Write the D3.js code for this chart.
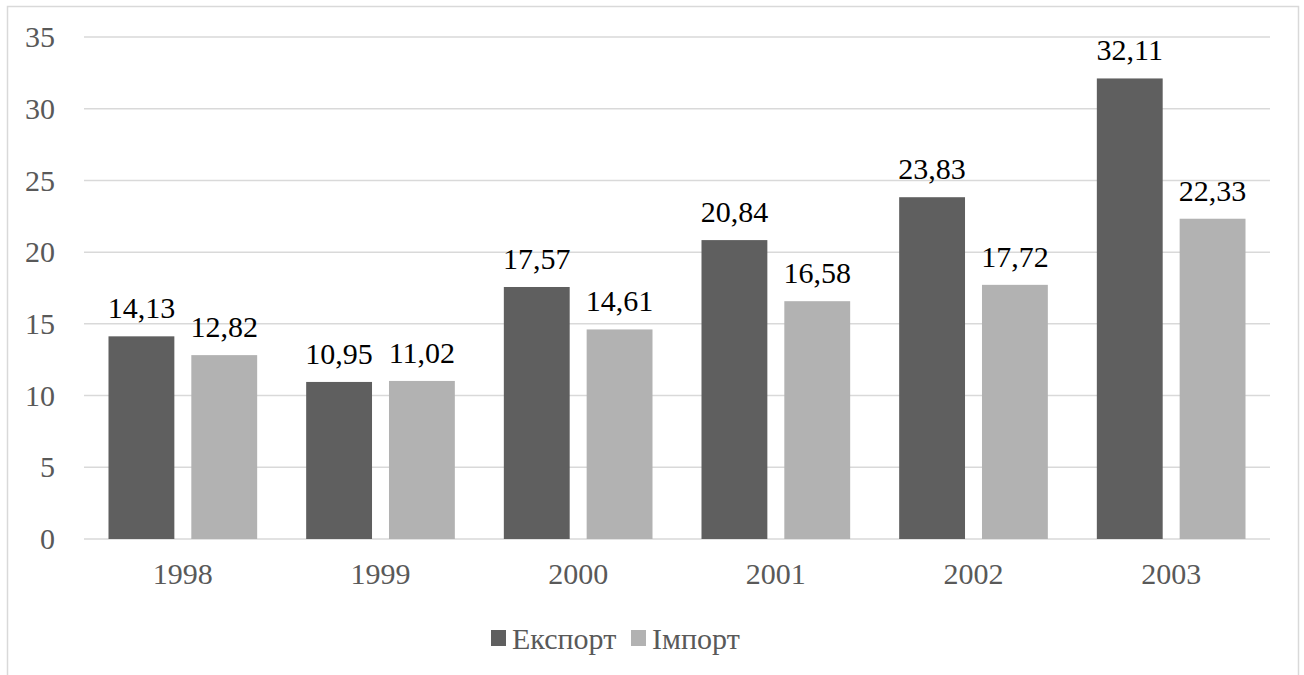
<!DOCTYPE html>
<html><head><meta charset="utf-8">
<script src="https://cdn.jsdelivr.net/npm/d3@7"></script>
<style>
@font-face{font-family:'ChartSerif';src:local('Liberation Serif'),local('LiberationSerif'),local('Liberation Serif Regular'),local('LiberationSerif-Regular');}
body{margin:0;background:#fff;font-family:'Liberation Serif',serif}svg{display:block}
svg text{font-family:'Liberation Serif','ChartSerif',serif !important;}
</style>
</head><body>
<script>
const years = ["1998","1999","2000","2001","2002","2003"];
const exportVals = [14.13,10.95,17.57,20.84,23.83,32.11];
const importVals = [12.82,11.02,14.61,16.58,17.72,22.33];
const seriesNames = ["Експорт","Імпорт"];
const yTicks = [0,5,10,15,20,25,30,35];

(function(){
const W=1304,H=675;
const colors=["#5f5f5f","#b2b2b2"];
const FF="'Liberation Serif', 'ChartSerif', serif";
const svg=d3.select("body").append("svg").attr("width",W).attr("height",H)
  .style("font-family",FF);
svg.append("rect").attr("x",7.5).attr("y",6.5).attr("width",1291).attr("height",700)
  .attr("fill","#fff").attr("stroke","#d9d9d9").attr("stroke-width",1.5);

const pL=84,pR=1270,pT=37,pB=539;
const x=d3.scaleBand().domain(years).range([pL,pR]).paddingInner(0).paddingOuter(0);
const inner=d3.scaleBand().domain([0,1]).range([24.5,x.bandwidth()-24.5]).paddingInner(17/83);
const y=d3.scaleLinear().domain([0,35]).range([pB,pT]);

const grid=svg.append("g");
grid.selectAll("line").data(yTicks).join("line")
  .attr("x1",pL).attr("x2",pR).attr("y1",d=>y(d)).attr("y2",d=>y(d))
  .attr("stroke","#d9d9d9").attr("stroke-width",1.5);

function styleText(sel){
  sel.attr("font-family",FF).style("font-family",FF,"important").style("font-size","30px");
}

const yAxis=d3.axisLeft(y).tickValues(yTicks).tickSize(0).tickPadding(29);
const ya=svg.append("g").attr("transform",`translate(${pL},0)`).call(yAxis);
ya.attr("font-family",FF).attr("font-size",30);
ya.select(".domain").remove();
ya.selectAll("text").call(styleText).attr("fill","#595959");

const xAxis=d3.axisBottom(x).tickSize(0).tickPadding(24);
const xa=svg.append("g").attr("transform",`translate(0,${pB})`).call(xAxis);
xa.attr("font-family",FF).attr("font-size",30);
xa.select(".domain").remove();
xa.selectAll("text").call(styleText).attr("fill","#595959");

const data=[exportVals,importVals];
data.forEach((vals,si)=>{
  const g=svg.append("g");
  g.selectAll("rect").data(vals).join("rect")
    .attr("x",(d,i)=>x(years[i])+inner(si)).attr("width",inner.bandwidth())
    .attr("y",d=>y(d)).attr("height",d=>y(0)-y(d)).attr("fill",colors[si]);
  g.selectAll("text").data(vals).join("text")
    .attr("x",(d,i)=>x(years[i])+inner(si)+inner.bandwidth()/2)
    .attr("y",d=>y(d)-18).attr("text-anchor","middle")
    .call(styleText).attr("fill","#000")
    .text(d=>d.toFixed(2).replace(".",","));
});

const leg=svg.append("g");
const legX=[491,631];
seriesNames.forEach((n,i)=>{
  leg.append("rect").attr("x",legX[i]).attr("y",630).attr("width",15).attr("height",16).attr("fill",colors[i]);
  leg.append("text").attr("x",legX[i]+21).attr("y",649).call(styleText)
    .attr("fill","#595959").text(n);
});
})();
</script>
</body></html>
